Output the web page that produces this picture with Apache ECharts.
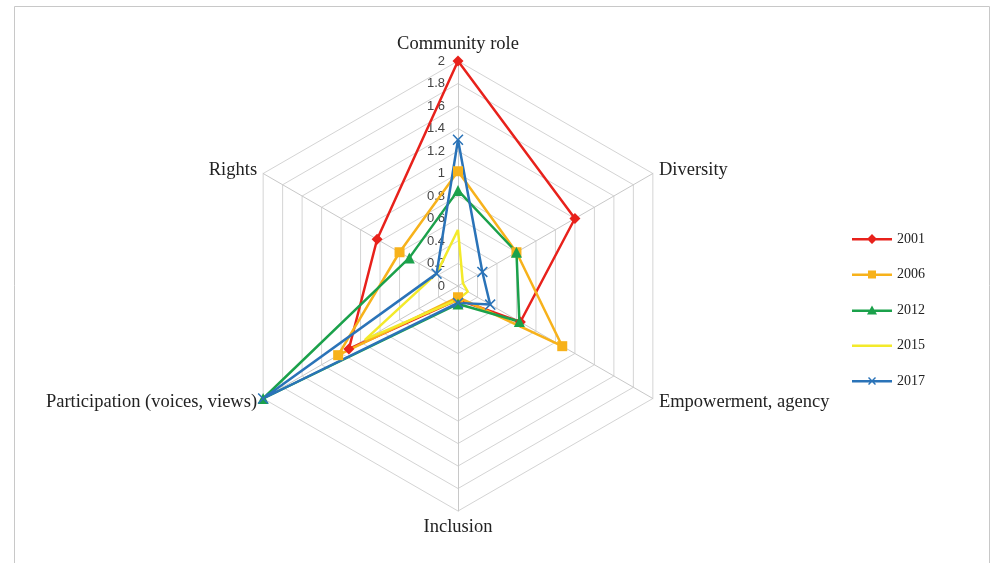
<!DOCTYPE html>
<html><head><meta charset="utf-8">
<script src="https://cdn.jsdelivr.net/npm/echarts@6/dist/echarts.min.js"></script>
<style>html,body{margin:0;padding:0;background:#fff}#c{width:994px;height:563px}</style>
</head><body><div id="c"></div>
<script>
const indicators = ['Community role','Diversity','Empowerment, agency','Inclusion','Participation (voices, views)','Rights'];
const years = ['2001','2006','2012','2015','2017'];
const v2001 = [2.0, 1.2, 0.64, 0.12, 1.12, 0.83];
const v2006 = [1.02, 0.6, 1.07, 0.1, 1.23, 0.6];
const v2012 = [0.85, 0.6, 0.63, 0.16, 2.0, 0.5];
const v2015 = [0.5, 0.05, 0.1, 0.12, 0.95, 0.22];
const v2017 = [1.3, 0.25, 0.33, 0.15, 2.0, 0.22];
const values = [v2001, v2006, v2012, v2015, v2017];
const colors = ['#E8211B', '#F7B21B', '#1BA14B', '#F3EA2A', '#2A73B8'];
const symbols = ['diamond', 'rect', 'triangle', 'none',
  'path://M0,1L1,0L5,4L9,0L10,1L6,5L10,9L9,10L5,6L1,10L0,9L4,5Z'];
const symbolSizes = [11, 10, 11, 0, 11];

// legend icons: line with marker in the middle, all in a 40x12 box
const lineP = 'M0,5L40,5L40,7.5L0,7.5Z';
const anchor = 'M20,0L20.01,0L20,0.01Z M20,12L20.01,12L20,11.99Z';
const legendIcons = [
  'path://' + lineP + ' M20,1L25,6L20,11L15,6Z',
  'path://' + lineP + ' M16,2L24,2L24,10L16,10Z',
  'path://' + lineP + ' M20,1L25,10L15,10Z',
  'path://' + lineP + ' ' + anchor,
  'path://' + lineP + ' ' + anchor + ' M16,3L17,2L20,5L23,2L24,3L21,6L24,9L23,10L20,7L17,10L16,9L19,6Z'
];

// ECharts radar runs counter-clockwise; reorder so the chart runs clockwise
const order = [0, 5, 4, 3, 2, 1];

const font = 'Liberation Serif';
const chart = echarts.init(document.getElementById('c'));
chart.setOption({
  backgroundColor: '#fff',
  animation: false,
  graphic: [{
    type: 'rect', shape: {x: 14.5, y: 6.5, width: 975, height: 570},
    style: {fill: 'none', stroke: '#c8c8c8', lineWidth: 1}, silent: true
  }],
  legend: {
    orient: 'vertical', left: 847, top: 227, itemGap: 21.5,
    itemWidth: 40, itemHeight: 12,
    data: years.map((y, i) => ({name: y, icon: legendIcons[i]})),
    textStyle: {fontFamily: font, fontSize: 14, color: '#222'}
  },
  radar: {
    center: [458, 286], radius: 225, shape: 'polygon',
    splitNumber: 10, startAngle: 90,
    axisName: {color: '#222', fontFamily: font, fontSize: 18.5},
    nameGap: 7,
    splitLine: {lineStyle: {color: '#d4d4d4', width: 1}},
    splitArea: {show: false},
    axisLine: {lineStyle: {color: '#c8c8c8', width: 1}},
    axisTick: {show: false},
    axisLabel: {show: false},
    indicator: order.map((k, i) => i === 0
      ? {name: indicators[k], min: 0, max: 2, axisLabel: {show: true, color: '#444', fontFamily: 'Liberation Sans', fontSize: 13, margin: 13, formatter: v => String(+v.toFixed(1))}}
      : {name: indicators[k], min: 0, max: 2})
  },
  series: [{
    type: 'radar',
    data: years.map((y, i) => ({
      name: y, value: order.map(k => values[i][k]),
      symbol: symbols[i], symbolSize: symbolSizes[i],
      lineStyle: {color: colors[i], width: 2.5},
      itemStyle: {color: colors[i]}
    }))
  }]
});
</script></body></html>
